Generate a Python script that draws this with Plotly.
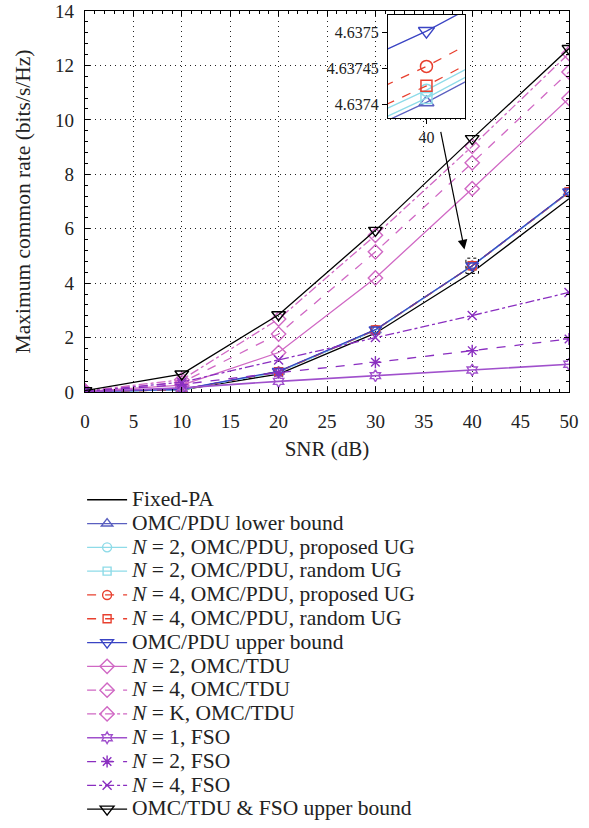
import plotly.graph_objects as go

snr = [0, 10, 20, 30, 40, 50]

fixed_pa = [0.02, 0.08, 0.66, 2.16, 4.40, 7.10]
pdu_lower = [0.01, 0.09, 0.74, 2.27, 4.637403, 7.33]
n2_pdu_prop = [0.01, 0.09, 0.74, 2.27, 4.637420, 7.34]
n2_pdu_rand = [0.01, 0.09, 0.74, 2.27, 4.637409, 7.34]
n4_pdu_prop = [0.01, 0.09, 0.75, 2.28, 4.637453, 7.35]
n4_pdu_rand = [0.01, 0.09, 0.75, 2.28, 4.637426, 7.35]
pdu_upper = [0.01, 0.10, 0.76, 2.29, 4.637502, 7.36]
n2_tdu = [0.02, 0.25, 1.45, 4.19, 7.47, 10.79]
n4_tdu = [0.03, 0.35, 2.13, 5.15, 8.42, 11.76]
nk_tdu = [0.04, 0.45, 2.68, 5.76, 9.03, 12.44]
n1_fso = [0.01, 0.15, 0.39, 0.60, 0.81, 1.02]
n2_fso = [0.01, 0.28, 0.71, 1.09, 1.52, 1.95]
n4_fso = [0.02, 0.36, 1.18, 2.00, 2.81, 3.66]
tdu_fso_upper = [0.05, 0.66, 2.84, 5.94, 9.31, 12.62]

y_ticks = [0, 2, 4, 6, 8, 10, 12, 14]
x_ticks = [0, 5, 10, 15, 20, 25, 30, 35, 40, 45, 50]
inset_y_ticks = [4.6374, 4.63745, 4.6375]
inset_y_labels = ["4.6374", "4.63745", "4.6375"]

BLACK = "#000000"
BLUE_LO = "#5a5fc0"
BLUE_UP = "#3a44c4"
CYAN = "#8edbe8"
RED = "#e8402f"
PINK = "#d068c4"
PURPLE1 = "#a050cc"
PURPLE = "#8a2ec0"

series = [
    ("Fixed-PA", fixed_pa, BLACK, "solid", None, 0, 1.3),
    ("OMC/PDU lower bound", pdu_lower, BLUE_LO, "solid", "triangle-up-open", 10, 1.3),
    ("<i>N</i> = 2, OMC/PDU, proposed UG", n2_pdu_prop, CYAN, "solid", "circle-open", 9, 1.3),
    ("<i>N</i> = 2, OMC/PDU, random UG", n2_pdu_rand, CYAN, "solid", "square-open", 8, 1.3),
    ("<i>N</i> = 4, OMC/PDU, proposed UG", n4_pdu_prop, RED, "dash", "circle-open", 9, 1.3),
    ("<i>N</i> = 4, OMC/PDU, random UG", n4_pdu_rand, RED, "dash", "square-open", 8, 1.3),
    ("OMC/PDU upper bound", pdu_upper, BLUE_UP, "solid", "triangle-down-open", 11, 1.3),
    ("<i>N</i> = 2, OMC/TDU", n2_tdu, PINK, "solid", "diamond-open", 11, 1.3),
    ("<i>N</i> = 4, OMC/TDU", n4_tdu, PINK, "dash", "diamond-open", 11, 1.3),
    ("<i>N</i> = K, OMC/TDU", nk_tdu, PINK, "dashdot", "diamond-open", 11, 1.3),
    ("<i>N</i> = 1, FSO", n1_fso, PURPLE1, "solid", "hexagram-open", 9, 1.6),
    ("<i>N</i> = 2, FSO", n2_fso, PURPLE, "dash", "asterisk-open", 10, 1.3),
    ("<i>N</i> = 4, FSO", n4_fso, PURPLE, "dashdot", "x-thin-open", 9, 1.3),
    ("OMC/TDU &amp; FSO upper bound", tdu_fso_upper, BLACK, "solid", "triangle-down-open", 12, 1.3),
]

LEG_SPAN = "<span style='font-size:21.5px'>{}</span>"

fig = go.Figure()
for name, vals, color, dash, sym, size, lw in series:
    mode = "lines" if sym is None else "lines+markers"
    marker = dict(symbol=sym, size=size, color=color,
                  line=dict(color=color, width=1.4)) if sym else None
    fig.add_trace(go.Scatter(
        x=snr, y=vals, name=LEG_SPAN.format(name), mode=mode,
        line=dict(color=color, dash=dash, width=lw),
        marker=marker, xaxis="x", yaxis="y", showlegend=True,
    ))

# inset traces (OMC/PDU group zoomed at SNR 40), drawn from the same data
for name, vals, color, dash, sym, size, lw in series[1:7]:
    fig.add_trace(go.Scatter(
        x=snr[3:], y=vals[3:], mode="lines+markers", showlegend=False,
        line=dict(color=color, dash=dash, width=1.3, simplify=False),
        marker=dict(symbol=sym, size=size + 3, color=color, line=dict(color=color, width=1.5)),
        xaxis="x2", yaxis="y2", hoverinfo="skip",
    ))

font_family = "Liberation Serif, DejaVu Serif, serif"
axis_common = dict(
    showline=True, linecolor="black", linewidth=1.3, mirror="allticks",
    ticks="inside", ticklen=5, tickcolor="black",
    tickfont=dict(family=font_family, size=19, color="#222"),
    zeroline=False, automargin=False,
    gridcolor="#222", griddash="1px,4px", gridwidth=1.2,
)

fig.update_layout(
    width=589, height=828,
    margin=dict(l=85, r=20, t=11, b=436, autoexpand=False),
    paper_bgcolor="white", plot_bgcolor="white",
    font=dict(family=font_family, size=16, color="#222"),
    xaxis=dict(
        range=[0, 50], tickvals=x_ticks, showgrid=True, ticklabelstandoff=12,
        title=dict(text="SNR (dB)", font=dict(family=font_family, size=21), standoff=10),
        minor=dict(dtick=1, ticks="inside", ticklen=2.5, tickcolor="black", showgrid=False),
        **axis_common,
    ),
    yaxis=dict(
        range=[0, 14], tickvals=y_ticks, showgrid=True, ticklabelstandoff=6,
        title=dict(text="Maximum common rate (bits/s/Hz)", font=dict(family=font_family, size=21.5), standoff=18),
        minor=dict(dtick=0.4, ticks="inside", ticklen=2.5, tickcolor="black", showgrid=False),
        **axis_common,
    ),
    xaxis2=dict(
        domain=[0.626, 0.785], anchor="y2", automargin=False,
        range=[40 - 0.000105, 40 + 0.000105], tickvals=[40], ticktext=["40"],
        showline=True, linecolor="black", linewidth=1, mirror=True,
        ticks="outside", ticklen=5, tickcolor="black", showgrid=False, zeroline=False,
        tickfont=dict(family=font_family, size=16, color="#222"),
    ),
    yaxis2=dict(
        domain=[0.7186, 0.9895], anchor="x2", automargin=False,
        range=[4.637381, 4.6375244], tickvals=inset_y_ticks, ticktext=inset_y_labels,
        showline=True, linecolor="black", linewidth=1, mirror=True,
        ticks="outside", ticklen=5, tickcolor="black", showgrid=False, zeroline=False,
        tickfont=dict(family=font_family, size=16, color="#222"),
    ),
    legend=dict(
        x=-0.006, y=-0.2385, xanchor="left", yanchor="top",
        font=dict(family=font_family, size=16, color="#222"),
        bgcolor="rgba(0,0,0,0)", tracegroupgap=0, itemwidth=40,
    ),
    showlegend=True,
)

# arrow pointing from inset to the zoomed region
fig.add_annotation(
    x=snr[4] - 0.8, y=pdu_upper[4] + 0.6, xref="x", yref="y",
    ax=-24, ay=-119, axref="pixel", ayref="pixel",
    showarrow=True, arrowhead=2, arrowsize=1.6, arrowwidth=1.2, arrowcolor="black", text="",
)
# dotted box around zoomed point
fig.add_shape(
    type="rect", xref="x", yref="y",
    x0=snr[4] - 0.65, x1=snr[4] + 0.65, y0=pdu_upper[4] - 0.28, y1=pdu_upper[4] + 0.28,
    line=dict(color="black", width=1, dash="dot"),
)

fig.write_html("out.html", config={"displayModeBar": False},
               post_script="document.body.style.margin='0';")
